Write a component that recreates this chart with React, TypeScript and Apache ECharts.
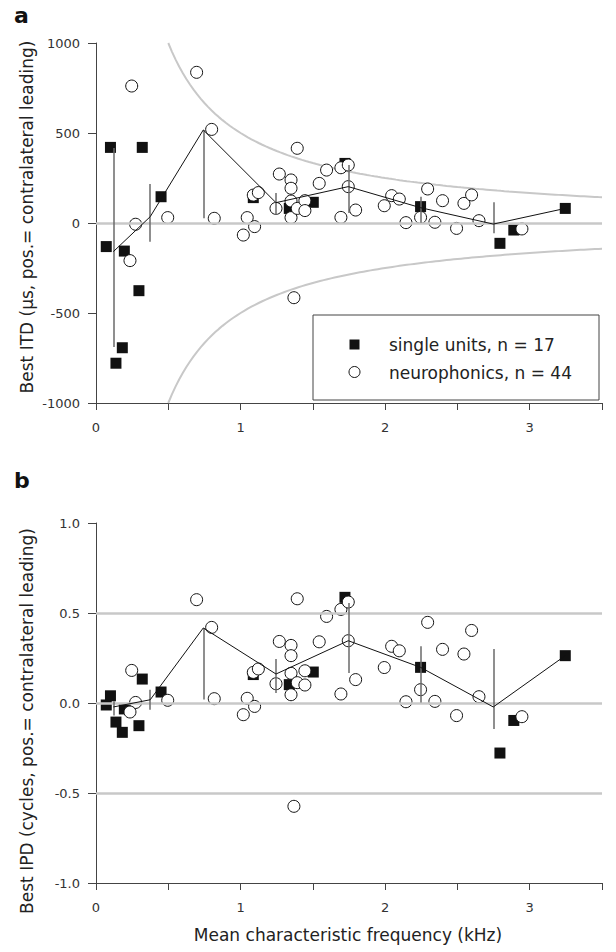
import React, { useEffect, useRef } from 'react';
import * as echarts from 'echarts';

// ---- data ----
// single units (filled squares)
const singleFreq = [0.071, 0.10, 0.138, 0.182, 0.196, 0.297, 0.32, 0.45, 1.088, 1.337, 1.503, 1.722, 2.245, 2.794, 2.89, 3.246];
const singleItd = [-131, 420, -779, -693, -156, -376, 420, 146, 141, 81, 115, 331, 91, -113, -39, 81];
const singleIpd = [-0.011, 0.04, -0.106, -0.163, -0.033, -0.126, 0.133, 0.061, 0.158, 0.102, 0.172, 0.587, 0.198, -0.278, -0.097, 0.263];

// neurophonics (open circles)
const neuroFreq = [0.247, 0.696, 0.80, 1.392, 0.274, 0.235, 0.496, 0.818, 1.046, 1.019, 1.097, 1.088, 1.123, 1.245, 1.268, 1.349, 1.349, 1.349, 1.349, 1.392, 1.445, 1.445, 1.369, 1.544, 1.595, 1.694, 1.694, 1.745, 1.745, 1.796, 1.994, 2.045, 2.098, 2.144, 2.245, 2.294, 2.344, 2.397, 2.494, 2.545, 2.598, 2.649, 2.946];
const neuroItd = [761, 837, 520, 415, -7, -209, 30, 26, 30, -67, -20, 155, 169, 81, 272, 239, 193, 122, 30, 81, 124, 69, -415, 220, 294, 307, 31, 322, 202, 72, 96, 152, 133, 2, 31, 189, 4, 124, -30, 109, 156, 13, -33];
const neuroIpd = [0.181, 0.574, 0.42, 0.579, 0.003, -0.05, 0.015, 0.024, 0.026, -0.065, -0.019, 0.17, 0.189, 0.107, 0.342, 0.32, 0.263, 0.165, 0.046, 0.113, 0.179, 0.10, -0.574, 0.34, 0.481, 0.52, 0.05, 0.561, 0.346, 0.13, 0.197, 0.315, 0.29, 0.007, 0.074, 0.448, 0.009, 0.298, -0.07, 0.272, 0.403, 0.035, -0.076];

// binned means with spread bars
const meanFreq = [0.12, 0.375, 0.742, 1.245, 1.745, 2.245, 2.748, 3.246];
const itdMean = [-159, 35, 517, 113, 202, 85, -6, 81];
const itdBarHigh = [417, 217, 517, 167, 322, 146, 115];
const itdBarLow = [-689, -104, 26, 44, 55, 2, -57];
const ipdMean = [-0.022, 0.018, 0.417, 0.161, 0.346, 0.198, -0.022, 0.263];
const ipdBarHigh = [0.01, 0.074, 0.417, 0.244, 0.556, 0.315, 0.30];
const ipdBarLow = [-0.07, -0.037, 0.02, 0.056, 0.167, 0.003, -0.144];

// axis ticks
const itdTicks = [-1000, -500, 0, 500, 1000];
const ipdTicks = [-1.0, -0.5, 0.0, 0.5, 1.0];
const ipdRefLines = [-0.5, 0, 0.5];

// half-period limit (±1/(2·CF)), drawn as the grey boundary curves in panel a
const curveFreq: number[] = [];
for (let f = 0.5; f <= 3.5001; f += 0.025) curveFreq.push(+f.toFixed(3));
const halfPeriodUs = (f: number) => 500 / f;

const FONT = 'DejaVu Sans';
const AXIS_COLOR = '#444';
const GREY = '#c8c8c8';

function xAxis(gridIndex: number) {
  return {
    type: 'value',
    gridIndex,
    min: 0,
    max: 3.5,
    interval: 0.5,
    axisLine: { show: true, onZero: false, lineStyle: { color: AXIS_COLOR, width: 1 } },
    axisTick: { show: true, length: 7, lineStyle: { color: AXIS_COLOR } },
    axisLabel: {
      margin: 18,
      fontFamily: FONT,
      fontSize: 13,
      color: '#333',
      formatter: (v: number) => (Math.abs(v - Math.round(v)) < 1e-6 ? String(Math.round(v)) : ''),
    },
    splitLine: { show: false },
  };
}

function yAxis(gridIndex: number, ticks: number[], fmt: (v: number) => string) {
  return {
    type: 'value',
    gridIndex,
    min: ticks[0],
    max: ticks[ticks.length - 1],
    interval: ticks[1] - ticks[0],
    axisLine: { show: true, onZero: false, lineStyle: { color: AXIS_COLOR, width: 1 } },
    axisTick: { show: true, length: 8, lineStyle: { color: AXIS_COLOR } },
    axisLabel: { margin: 16, fontFamily: FONT, fontSize: 13, color: '#333', formatter: fmt },
    splitLine: { show: false },
  };
}

function panelSeries(idx: number, sVals: number[], nVals: number[], mean: number[], hi: number[], lo: number[]) {
  return [
    {
      type: 'scatter',
      xAxisIndex: idx,
      yAxisIndex: idx,
      symbol: 'rect',
      symbolSize: 11,
      itemStyle: { color: '#111', opacity: 1 },
      data: singleFreq.map((f, i) => [f, sVals[i]]),
      z: 3,
      silent: true,
    },
    {
      type: 'scatter',
      xAxisIndex: idx,
      yAxisIndex: idx,
      symbol: 'circle',
      symbolSize: 12,
      itemStyle: { color: '#fff', borderColor: '#111', borderWidth: 1, opacity: 1 },
      data: neuroFreq.map((f, i) => [f, nVals[i]]),
      z: 4,
      silent: true,
    },
    {
      type: 'lines',
      coordinateSystem: 'cartesian2d',
      xAxisIndex: idx,
      yAxisIndex: idx,
      lineStyle: { color: '#6a6a6a', width: 1.5, opacity: 1 },
      data: hi.map((h, i) => ({ coords: [[meanFreq[i], lo[i]], [meanFreq[i], h]] })),
      z: 5,
      silent: true,
    },
    {
      type: 'line',
      xAxisIndex: idx,
      yAxisIndex: idx,
      showSymbol: false,
      symbol: 'none',
      lineStyle: { color: '#111', width: 1 },
      data: meanFreq.map((f, i) => [f, mean[i]]),
      z: 6,
      silent: true,
    },
  ];
}

const refLineStyle = { color: GREY, width: 2.5, type: 'solid' };

const option = {
  animation: false,
  backgroundColor: '#fff',
  grid: [
    { left: 96, top: 43, width: 506, height: 360, containLabel: false },
    { left: 96, top: 523, width: 506, height: 360, containLabel: false },
  ],
  xAxis: [xAxis(0), xAxis(1)],
  yAxis: [
    yAxis(0, itdTicks, (v: number) => String(v)),
    yAxis(1, ipdTicks, (v: number) => v.toFixed(1)),
  ],
  series: [
    {
      type: 'line',
      xAxisIndex: 0,
      yAxisIndex: 0,
      showSymbol: false,
      symbol: 'none',
      lineStyle: { color: GREY, width: 2 },
      data: curveFreq.map((f) => [f, halfPeriodUs(f)]),
      z: 1,
      silent: true,
      markLine: {
        silent: true,
        symbol: ['none', 'none'],
        label: { show: false },
        lineStyle: refLineStyle,
        data: [{ yAxis: 0 }],
      },
    },
    {
      type: 'line',
      xAxisIndex: 0,
      yAxisIndex: 0,
      showSymbol: false,
      symbol: 'none',
      lineStyle: { color: GREY, width: 2 },
      data: curveFreq.map((f) => [f, -halfPeriodUs(f)]),
      z: 1,
      silent: true,
    },
    {
      type: 'line',
      xAxisIndex: 1,
      yAxisIndex: 1,
      data: [],
      z: 1,
      silent: true,
      markLine: {
        silent: true,
        symbol: ['none', 'none'],
        label: { show: false },
        lineStyle: refLineStyle,
        data: ipdRefLines.map((v) => ({ yAxis: v })),
      },
    },
    ...panelSeries(0, singleItd, neuroItd, itdMean, itdBarHigh, itdBarLow),
    ...panelSeries(1, singleIpd, neuroIpd, ipdMean, ipdBarHigh, ipdBarLow),
  ],
  graphic: [
    { type: 'text', left: 14, top: 4, style: { text: 'a', font: `bold 22px ${FONT}`, fill: '#111' } },
    { type: 'text', left: 14, top: 469, style: { text: 'b', font: `bold 22px ${FONT}`, fill: '#111' } },
    {
      type: 'text',
      x: 27,
      y: 217,
      rotation: Math.PI / 2,
      style: {
        text: 'Best ITD (µs, pos.= contralateral leading)',
        font: `17px ${FONT}`,
        fill: '#222',
        align: 'center',
        verticalAlign: 'middle',
      },
    },
    {
      type: 'text',
      x: 27,
      y: 721,
      rotation: Math.PI / 2,
      style: {
        text: 'Best IPD (cycles, pos.= contralateral leading)',
        font: `17px ${FONT}`,
        fill: '#222',
        align: 'center',
        verticalAlign: 'middle',
      },
    },
    {
      type: 'text',
      x: 348,
      y: 935,
      style: {
        text: 'Mean characteristic frequency (kHz)',
        font: `17px ${FONT}`,
        fill: '#222',
        align: 'center',
        verticalAlign: 'middle',
      },
    },
    // legend box
    {
      type: 'rect',
      shape: { x: 313, y: 315, width: 286, height: 85 },
      style: { fill: '#fff', stroke: '#444', lineWidth: 1 },
      z: 10,
    },
    {
      type: 'rect',
      shape: { x: 349.5, y: 339.5, width: 10, height: 10 },
      style: { fill: '#111' },
      z: 11,
    },
    {
      type: 'circle',
      shape: { cx: 354.5, cy: 372, r: 5.5 },
      style: { fill: '#fff', stroke: '#111', lineWidth: 1 },
      z: 11,
    },
    {
      type: 'text',
      x: 389,
      y: 345,
      z: 11,
      style: { text: 'single units, n = 17', font: `17px ${FONT}`, fill: '#222', verticalAlign: 'middle' },
    },
    {
      type: 'text',
      x: 389,
      y: 373,
      z: 11,
      style: { text: 'neurophonics, n = 44', font: `17px ${FONT}`, fill: '#222', verticalAlign: 'middle' },
    },
  ],
};

export default function App() {
  const ref = useRef<HTMLDivElement>(null);
  useEffect(() => {
    document.body.style.margin = '0';
    const chart = echarts.init(ref.current as HTMLDivElement, null, { renderer: 'svg' });
    chart.setOption(option as any);
    return () => chart.dispose();
  }, []);
  return <div ref={ref} style={{ width: 616, height: 952 }} />;
}
